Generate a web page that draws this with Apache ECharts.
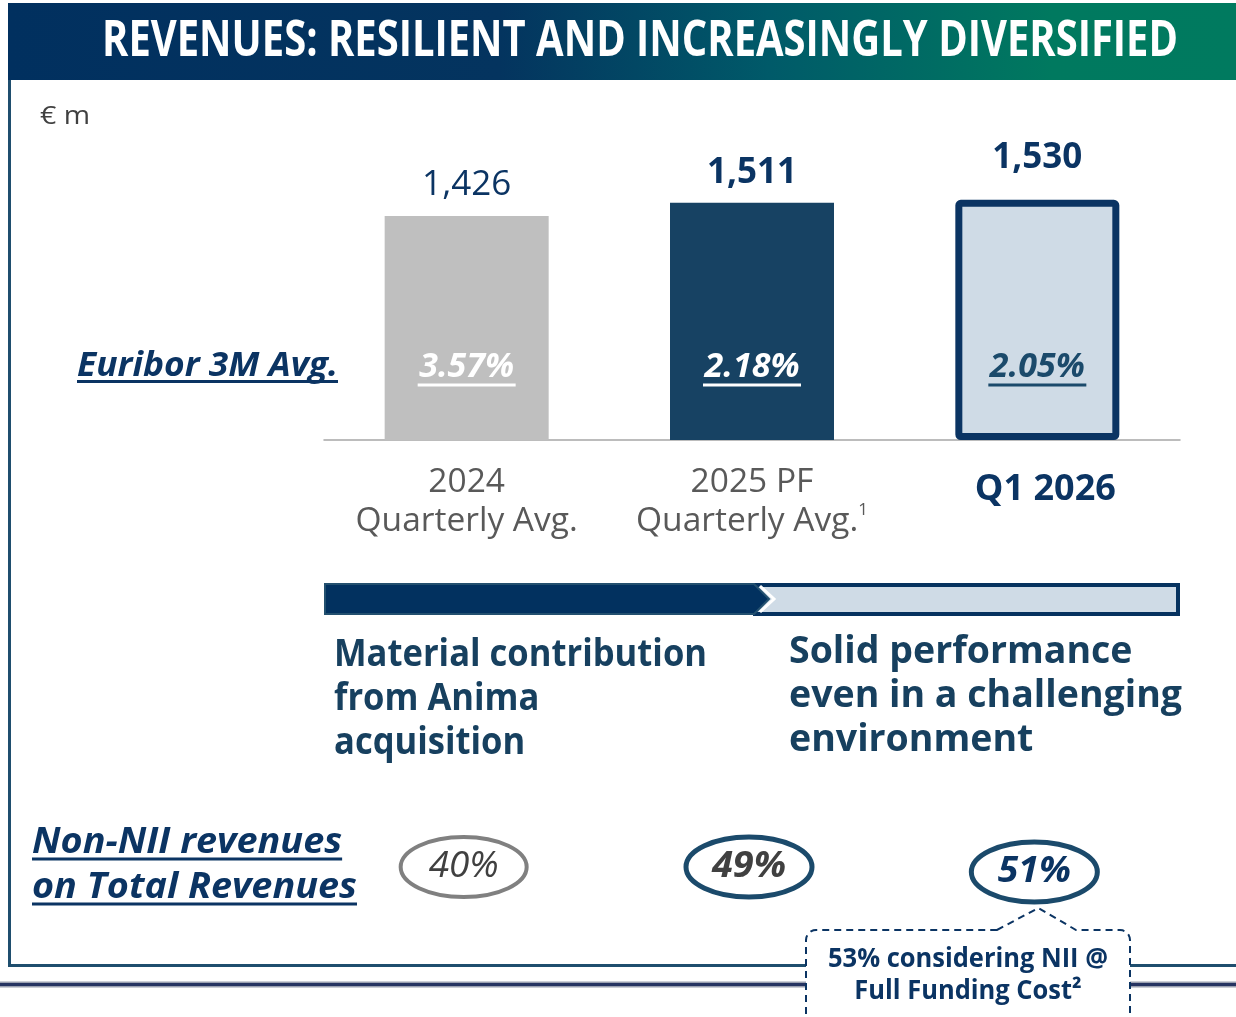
<!DOCTYPE html>
<html><head><meta charset="utf-8">
<script src="https://cdn.jsdelivr.net/npm/echarts@6/dist/echarts.min.js"></script>
<style>html,body{margin:0;padding:0;background:#fff;}#c{width:1236px;height:1017px;}</style>
</head><body><div id="c"></div>
<script>
// ---------- data ----------
const titleText = 'REVENUES: RESILIENT AND INCREASINGLY DIVERSIFIED';
const unitText = '€ m';
const categories = ['2024', '2025 PF', 'Q1 2026'];
const categorySub = ['Quarterly Avg.', 'Quarterly Avg.', ''];
const categoryNote = ['', '1', ''];
const revenues = [1426, 1511, 1530];
const revenueLabels = ['1,426', '1,511', '1,530'];
const euriborLabel = 'Euribor 3M Avg.';
const euribor = ['3.57%', '2.18%', '2.05%'];
const phaseLeft = ['Material contribution', 'from Anima', 'acquisition'];
const phaseRight = ['Solid performance', 'even in a challenging', 'environment'];
const nonNiiLabel = ['Non-NII revenues', 'on Total Revenues'];
const nonNiiShare = ['40%', '49%', '51%'];
const calloutLines = ['53% considering NII @', 'Full Funding Cost²'];

// ---------- style ----------
const FONT = '"Open Sans", "DejaVu Sans", sans-serif';
const NAVY = '#0b3463';
const SLATE = '#17405f';
const GREY_TXT = '#595959';

const chart = echarts.init(document.getElementById('c'), null, {renderer: 'canvas', width: 1236, height: 1017});

const mctx = document.createElement('canvas').getContext('2d');
function fontStr(o) { return `${o.style || 'normal'} ${o.weight || 'normal'} ${o.size}px ${FONT}`; }
function measure(text, o) { mctx.font = fontStr(o); return mctx.measureText(text).width; }
function gText(text, x, y, o) {
  const sx = o.scale || (o.width ? o.width / measure(text, o) : 1);
  return {type: 'text', x: x, y: y, scaleX: sx, z: o.z || 20,
    style: {text: text, fill: o.color, font: fontStr(o), textAlign: o.align || 'left', align: o.align || 'left',
      textVerticalAlign: 'middle', verticalAlign: 'middle'}};
}
function line(x1, y1, x2, y2, color, w, z, dash) {
  return {type: 'line', z: z || 5, shape: {x1, y1, x2, y2}, style: {stroke: color, lineWidth: w, lineDash: dash || null}};
}
function arcPts(cx, cy, r, a0, a1) {
  const pts = [];
  for (let k = 0; k <= 6; k++) {
    const a = a0 + (a1 - a0) * k / 6;
    pts.push([cx + r * Math.cos(a), cy + r * Math.sin(a)]);
  }
  return pts;
}

const barStyles = [
  {color: '#bfbfbf'},
  {color: '#174263'},
  {color: '#cfdbe6', borderColor: NAVY, borderWidth: 7, borderRadius: 2}
];
const valueLabelStyle = [
  {fontWeight: 'normal', distance: 14},
  {fontWeight: 'bold', distance: 12},
  {fontWeight: 'bold', distance: 24}
];
const euriborColors = ['#ffffff', '#ffffff', '#1b4a6b'];

const option = {
  animation: false,
  grid: {left: 324, right: 56, top: 126, bottom: 577},
  xAxis: {
    type: 'category',
    data: categories,
    axisLine: {lineStyle: {color: '#a6a6a6', width: 1.5}},
    axisTick: {show: false},
    axisLabel: {
      margin: 23,
      interval: 0,
      formatter: function (v, i) {
        if (!categorySub[i]) return '{q|' + v + '}';
        return '{a|' + v + '}\n{a|' + categorySub[i] + '}' + (categoryNote[i] ? '{s|' + categoryNote[i] + '}' : '');
      },
      rich: {
        a: {fontFamily: FONT, fontSize: 33.5, color: GREY_TXT, lineHeight: 39},
        s: {fontFamily: FONT, fontSize: 17, color: GREY_TXT, lineHeight: 18, verticalAlign: 'top'},
        q: {fontFamily: FONT, fontSize: 36, fontWeight: 'bold', color: NAVY, lineHeight: 54, padding: [0, 0, 0, 16]}
      }
    }
  },
  yAxis: {type: 'value', min: 0, max: 2000, show: false, splitLine: {show: false}},
  series: [
    {
      type: 'bar',
      barWidth: 164,
      z: 2,
      data: revenues.map((v, i) => ({
        value: v,
        itemStyle: barStyles[i],
        label: {fontWeight: valueLabelStyle[i].fontWeight, distance: valueLabelStyle[i].distance}
      })),
      label: {
        show: true, position: 'top', fontFamily: FONT, fontSize: 35, color: NAVY,
        formatter: p => revenueLabels[p.dataIndex]
      }
    },
    {
      type: 'bar',
      barWidth: 164,
      barGap: '-100%',
      silent: true,
      z: 3,
      itemStyle: {color: 'rgba(0,0,0,0)'},
      data: revenues.map((v, i) => ({
        value: v,
        label: {
          rich: {
            t: {fontFamily: FONT, fontSize: 34, fontWeight: 'bold', fontStyle: 'italic', color: euriborColors[i], lineHeight: 30},
            u: {width: 98, height: 3, lineHeight: 6, backgroundColor: euriborColors[i]}
          }
        }
      })),
      label: {
        show: true, position: 'insideBottom', distance: 52,
        formatter: p => '{t|' + euribor[p.dataIndex] + '}\n{u|}'
      }
    }
  ]
};
chart.setOption(option);

// ---------- decorations & annotations ----------
const xs = categories.map((c, i) => chart.convertToPixel({xAxisIndex: 0}, i));
const g = [];

// header band
g.push({type: 'rect', z: 1, shape: {x: 8, y: 3, width: 1228, height: 77},
  style: {fill: {type: 'linear', x: 0, y: 0, x2: 1, y2: 0, colorStops: [
    {offset: 0, color: '#01305f'}, {offset: 0.4, color: '#04345f'},
    {offset: 0.62, color: '#005a69'}, {offset: 0.85, color: '#00795f'}, {offset: 1, color: '#007a5f'}]}}});
g.push(gText(titleText, 640, 42, {size: 50, weight: 'bold', color: '#ffffff', align: 'center', width: 1076}));

// frame
g.push(line(9.5, 80, 9.5, 966, '#1f4e6e', 3, 2));
g.push(line(8, 965.5, 1236, 965.5, '#1f4e6e', 3, 2));
g.push(line(0, 984.5, 1236, 984.5, '#9aa0b0', 6, 2));
g.push(line(0, 984.5, 1236, 984.5, '#263462', 3, 3));

// unit
g.push(gText(unitText, 40, 117, {size: 26, color: '#404040', width: 50}));

// euribor label
g.push(gText(euriborLabel, 77, 366, {size: 34, weight: 'bold', style: 'italic', color: NAVY, width: 261}));
g.push(line(77, 381.5, 338, 381.5, NAVY, 3, 20));

// phase band
g.push({type: 'rect', z: 4, shape: {x: 755, y: 585, width: 423, height: 29},
  style: {fill: '#cfdbe6', stroke: '#06325f', lineWidth: 4}});
g.push({type: 'polygon', z: 5, shape: {points: [[325, 584], [754, 584], [769, 599], [754, 614], [325, 614]]},
  style: {fill: '#02315f', stroke: '#23506f', lineWidth: 2}});
g.push({type: 'polyline', z: 6, shape: {points: [[760, 586], [774, 599], [760, 612]]},
  style: {stroke: '#ffffff', lineWidth: 3}});

// phase texts
(function () {
  const o = {size: 38, weight: 'bold', color: SLATE};
  const sL = 373 / measure(phaseLeft[0], o);
  const yL = [655, 699, 743];
  phaseLeft.forEach((t, i) => g.push(gText(t, 334, yL[i], Object.assign({scale: sL}, o))));
  const sR = 393 / measure(phaseRight[1], o);
  const yR = [652, 696, 740];
  phaseRight.forEach((t, i) => g.push(gText(t, 789, yR[i], Object.assign({scale: sR}, o))));
})();

// Non-NII label
(function () {
  const o = {size: 36, weight: 'bold', style: 'italic', color: NAVY};
  const s = 325 / measure(nonNiiLabel[1], o);
  const ys = [843, 888];
  nonNiiLabel.forEach((t, i) => {
    g.push(gText(t, 32, ys[i], Object.assign({scale: s}, o)));
    const w = measure(t, o) * s;
    g.push(line(32, ys[i] + 16, 32 + w, ys[i] + 16, NAVY, 3, 20));
  });
})();

// share ellipses
const ellStyle = [
  {stroke: '#808080', w: 4, color: '#404040', weight: 'normal', tw: 70, dy: 0},
  {stroke: '#1b4a6b', w: 5, color: '#404040', weight: 'bold', tw: 74, dy: 0},
  {stroke: '#1b4a6b', w: 5, color: NAVY, weight: 'bold', tw: 73, dy: 5}
];
nonNiiShare.forEach((t, i) => {
  const cx = xs[i] - 3, cy = 867 + ellStyle[i].dy;
  g.push({type: 'ellipse', z: 10, shape: {cx: cx, cy: cy, rx: 63, ry: 30},
    style: {fill: 'rgba(0,0,0,0)', stroke: ellStyle[i].stroke, lineWidth: ellStyle[i].w}});
  g.push(gText(t, cx, cy, {size: 36, weight: ellStyle[i].weight, style: 'italic', color: ellStyle[i].color, align: 'center', width: ellStyle[i].tw}));
});

// callout
(function () {
  const ax = xs[2] + 1;
  const r = 10;
  const pts = [].concat(
    [[997, 930], [ax, 908], [1076, 930]],
    arcPts(1130 - r, 930 + r, r, -Math.PI / 2, 0),
    [[1130, 1040], [806, 1040]],
    arcPts(806 + r, 930 + r, r, Math.PI, Math.PI * 1.5)
  );
  g.push({type: 'polygon', z: 15, shape: {points: pts},
    style: {fill: '#ffffff', stroke: NAVY, lineWidth: 2, lineDash: [7, 5]}});
  const o = {size: 26, weight: 'bold', color: NAVY, align: 'center', z: 20};
  const s = 280 / measure(calloutLines[0], o);
  g.push(gText(calloutLines[0], 968, 960, Object.assign({scale: s}, o)));
  g.push(gText(calloutLines[1], 968, 992, Object.assign({scale: s}, o)));
})();

chart.setOption({graphic: {elements: g}});
</script>
</body></html>
